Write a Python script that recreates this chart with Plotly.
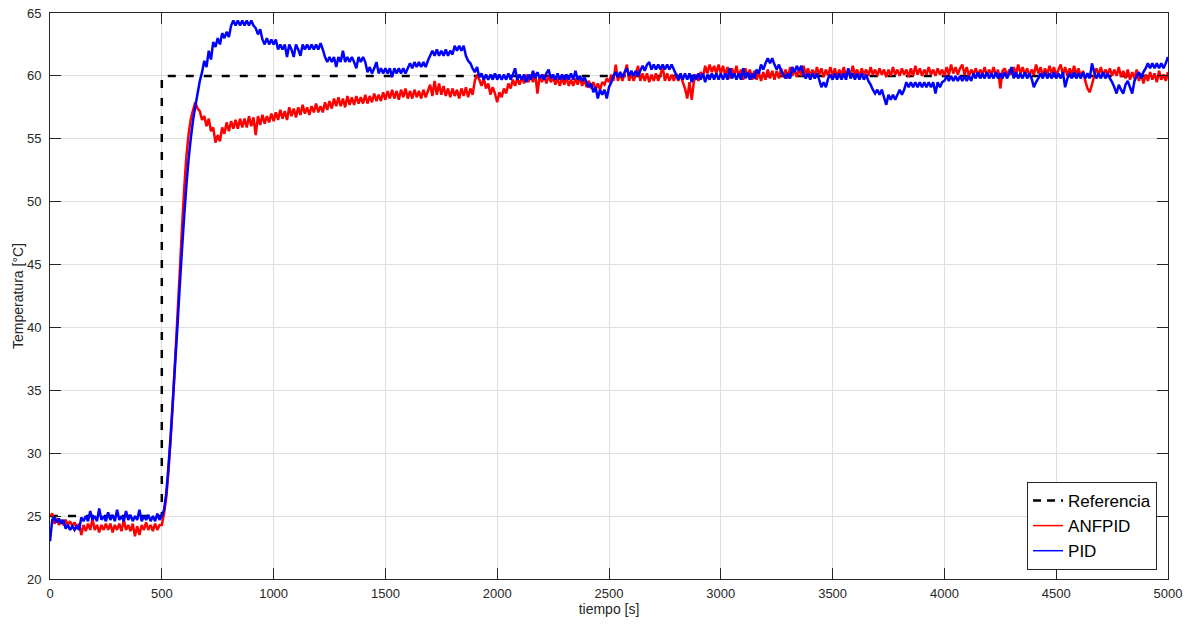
import numpy as np
import plotly.graph_objects as go

# time grid (s), 10 s sampling of the read-off curves
time_s = np.arange(0, 5001, 10)

# Reference (set point)
ref_t = [0, 500, 500, 5000]
ref_v = [25, 25, 60, 60]

# ANFPID response [°C]
anfpid = [
    25.0, 25.2, 24.4, 24.8, 24.3, 24.7, 24.3, 24.7, 24.3, 24.6, 24.2, 24.5, 24.0, 24.4, 23.5, 24.3, 23.8, 24.4, 23.9, 24.8, 23.9, 24.3, 23.7, 24.3, 23.9,
    24.4, 23.9, 24.4, 23.7, 24.3, 23.9, 24.4, 23.8, 24.7, 23.9, 24.3, 23.8, 24.4, 23.4, 24.2, 23.5, 24.3, 23.9, 24.5, 23.9, 24.3, 23.8, 24.4, 23.9, 24.3,
    24.3, 25.2, 26.5, 28.6, 31.2, 34.3, 37.6, 40.9, 44.3, 47.8, 51.0, 53.6, 55.4, 56.6, 57.3, 57.9, 57.4, 57.2, 56.5, 56.8, 56.0, 56.6, 55.6, 55.9, 54.7,
    55.3, 54.8, 55.9, 55.4, 56.3, 55.6, 56.4, 55.8, 56.5, 55.8, 56.6, 55.9, 56.6, 55.9, 56.8, 56.0, 56.7, 55.3, 56.8, 56.1, 56.9, 56.2, 56.8, 56.3, 57.0,
    56.4, 57.1, 56.5, 57.3, 56.6, 57.2, 56.5, 57.5, 56.8, 57.4, 56.7, 57.5, 56.9, 57.7, 57.0, 57.5, 56.9, 57.6, 57.1, 57.8, 57.1, 57.6, 57.1, 57.9, 57.3,
    58.0, 57.4, 58.2, 57.6, 58.3, 57.6, 58.2, 57.5, 58.4, 57.7, 58.3, 57.7, 58.4, 57.8, 58.3, 57.8, 58.5, 57.8, 58.4, 57.9, 58.6, 58.0, 58.5, 58.0, 58.7,
    58.1, 58.8, 58.2, 58.9, 58.2, 58.8, 58.1, 58.9, 58.3, 59.0, 58.2, 58.8, 58.2, 58.9, 58.3, 58.8, 58.2, 58.9, 58.3, 58.8, 59.3, 58.4, 59.6, 58.5, 59.4,
    58.5, 59.2, 58.4, 59.0, 58.3, 59.0, 58.4, 58.9, 58.2, 59.0, 58.4, 59.1, 58.3, 59.0, 58.5, 59.6, 60.1, 59.7, 59.2, 59.8, 59.0, 59.4, 58.5, 59.1, 58.6,
    57.9, 58.7, 58.3, 59.0, 58.6, 59.4, 59.0, 59.7, 59.2, 59.8, 59.3, 59.9, 59.4, 60.1, 59.5, 60.1, 59.5, 60.2, 58.6, 60.0, 59.5, 60.1, 59.4, 60.0, 59.5,
    59.9, 59.3, 59.8, 59.2, 59.8, 59.3, 59.9, 59.2, 59.7, 59.2, 59.8, 59.3, 59.9, 59.2, 59.7, 59.1, 59.6, 59.0, 59.5, 58.9, 59.4, 58.9, 59.5, 59.3, 59.8,
    59.5, 60.1, 59.6, 60.9, 59.6, 60.2, 59.6, 60.2, 60.9, 59.6, 60.2, 59.6, 60.1, 60.8, 59.6, 60.2, 59.6, 60.2, 59.5, 60.1, 59.6, 60.2, 59.6, 60.1, 60.7,
    59.6, 60.2, 59.6, 60.1, 59.6, 60.2, 59.6, 60.1, 59.5, 59.0, 58.2, 59.5, 58.1, 59.6, 60.1, 59.6, 60.3, 59.9, 60.8, 60.2, 60.9, 60.3, 60.8, 60.2, 60.9,
    60.2, 60.8, 60.0, 60.7, 59.8, 60.6, 60.0, 60.8, 59.9, 60.5, 59.7, 60.6, 59.9, 60.5, 59.7, 60.4, 59.7, 60.3, 59.6, 60.3, 59.7, 60.5, 59.8, 60.4, 59.7,
    60.4, 59.8, 60.6, 59.9, 60.5, 59.8, 60.7, 60.0, 60.5, 59.9, 60.6, 60.0, 60.8, 60.1, 60.6, 60.0, 60.5, 60.0, 60.7, 60.1, 60.6, 59.9, 60.5, 60.0, 60.7,
    60.0, 60.6, 59.9, 60.5, 60.0, 60.7, 59.9, 60.5, 60.0, 60.8, 60.1, 60.5, 59.9, 60.6, 60.1, 60.5, 60.0, 60.7, 60.1, 60.5, 60.0, 60.6, 60.1, 60.5, 59.9,
    60.5, 60.0, 60.7, 60.1, 60.5, 60.0, 60.6, 60.1, 60.5, 59.9, 60.6, 60.0, 60.8, 60.1, 60.6, 60.0, 60.5, 60.1, 60.7, 60.1, 60.5, 60.0, 60.6, 60.1, 60.5,
    60.0, 60.7, 60.1, 60.9, 60.2, 60.7, 60.1, 60.6, 60.9, 60.1, 60.7, 60.0, 60.5, 60.1, 60.6, 60.0, 60.5, 60.1, 60.7, 60.0, 60.5, 60.1, 60.7, 60.0, 60.5,
    59.0, 60.4, 60.6, 60.0, 60.5, 60.1, 60.7, 60.1, 60.9, 60.2, 60.7, 60.1, 60.6, 60.0, 60.5, 60.1, 60.9, 60.2, 60.7, 60.0, 60.6, 60.1, 60.8, 60.2, 60.7,
    60.0, 60.5, 60.9, 60.1, 60.7, 60.0, 60.6, 60.1, 60.8, 60.1, 60.6, 59.9, 60.4, 59.6, 59.0, 58.7, 59.3, 60.0, 60.6, 60.1, 60.7, 60.0, 60.5, 60.1, 60.6,
    60.0, 60.5, 60.0, 60.7, 59.9, 60.4, 59.8, 60.5, 59.7, 60.3, 59.8, 60.5, 59.6, 60.2, 59.4, 60.1, 59.6, 60.3, 59.7, 60.2, 59.5, 60.4, 59.7, 60.1, 59.6,
    60.3,
]

# PID response [°C]
pid = [
    23.0, 24.7, 24.9, 24.5, 24.8, 24.4, 24.7, 24.0, 24.3, 23.9, 24.2, 23.9, 24.2, 23.9, 24.9, 24.6, 25.0, 24.6, 25.4, 24.7, 25.0, 24.6, 25.6, 24.7, 25.0,
    24.6, 25.3, 24.7, 25.1, 24.6, 25.5, 24.7, 25.0, 24.6, 25.4, 24.7, 25.1, 24.6, 25.0, 24.7, 25.5, 24.6, 25.0, 24.7, 25.1, 24.6, 25.0, 24.6, 25.2, 24.7,
    25.0, 25.5, 26.8, 29.0, 31.5, 34.3, 37.2, 40.1, 43.2, 46.1, 48.8, 51.3, 53.4, 55.1, 56.5, 57.6, 58.6, 59.6, 60.3, 61.2, 60.7, 62.0, 61.3, 62.7, 62.3,
    63.0, 62.5, 63.4, 63.0, 63.5, 63.1, 64.0, 64.4, 64.0, 64.4, 64.0, 64.4, 64.0, 64.4, 64.0, 64.4, 64.0, 63.8, 63.3, 63.7, 62.9, 62.5, 63.0, 62.5, 62.9,
    62.5, 62.9, 62.1, 62.5, 62.1, 62.5, 61.5, 62.5, 62.1, 61.5, 62.5, 62.1, 61.6, 62.5, 62.1, 62.5, 62.1, 62.5, 62.1, 62.5, 62.1, 62.6, 62.1, 61.5, 61.1,
    61.5, 61.1, 61.5, 60.7, 61.5, 61.1, 62.0, 61.1, 61.5, 61.1, 61.5, 61.1, 60.6, 61.5, 61.1, 61.5, 61.1, 60.3, 60.7, 60.2, 60.6, 61.1, 60.2, 60.6, 60.2,
    60.6, 60.2, 60.6, 59.9, 60.6, 60.2, 60.6, 60.2, 60.6, 60.2, 60.6, 61.0, 60.6, 61.1, 60.7, 61.1, 60.7, 61.1, 60.7, 61.2, 61.6, 62.0, 61.6, 62.1, 61.6,
    62.0, 61.6, 62.1, 61.6, 62.0, 61.7, 62.4, 62.0, 62.4, 62.0, 62.4, 61.6, 61.2, 61.0, 60.6, 60.3, 60.7, 59.9, 60.2, 59.7, 60.1, 59.7, 60.1, 59.7, 60.2,
    59.7, 60.1, 59.7, 60.1, 59.7, 60.2, 59.7, 60.1, 60.6, 59.7, 60.1, 59.7, 60.1, 59.5, 60.1, 59.7, 60.4, 59.8, 60.3, 59.8, 60.1, 59.7, 60.2, 60.5, 59.8,
    60.1, 59.7, 60.2, 59.7, 60.1, 59.7, 60.1, 59.7, 60.2, 59.7, 60.4, 59.7, 60.0, 59.6, 59.9, 59.5, 59.1, 59.4, 58.7, 59.1, 58.2, 58.9, 58.5, 58.9, 58.2,
    59.1, 59.5, 60.0, 60.3, 59.9, 60.3, 59.9, 60.3, 60.6, 60.0, 60.4, 60.0, 60.4, 60.0, 60.4, 60.8, 60.4, 60.9, 61.1, 60.5, 60.9, 60.5, 60.9, 60.5, 60.9,
    60.5, 60.9, 60.5, 60.9, 60.5, 60.1, 59.7, 60.2, 59.7, 60.2, 59.7, 60.2, 59.5, 60.1, 59.7, 60.2, 59.7, 60.2, 59.5, 60.1, 59.7, 60.2, 59.7, 60.2, 59.7,
    60.2, 59.7, 60.2, 59.7, 60.6, 59.8, 60.2, 59.7, 60.2, 59.7, 60.6, 59.8, 60.3, 59.7, 60.2, 59.8, 60.5, 60.2, 60.9, 60.5, 61.0, 61.4, 61.0, 61.4, 60.9,
    60.5, 60.9, 60.4, 60.1, 59.8, 60.2, 59.8, 60.7, 60.3, 60.8, 60.4, 60.8, 60.1, 59.8, 60.2, 59.7, 60.2, 59.8, 60.2, 59.7, 59.1, 59.5, 59.1, 59.8, 60.1,
    59.7, 60.2, 59.7, 60.2, 59.7, 60.2, 59.7, 60.6, 59.8, 60.2, 59.7, 60.2, 59.7, 60.2, 59.7, 60.1, 59.6, 59.3, 58.9, 58.6, 58.9, 58.5, 58.9, 58.3, 57.7,
    58.5, 58.1, 58.5, 58.1, 58.5, 58.9, 58.5, 58.9, 59.5, 59.1, 59.5, 59.1, 59.5, 59.1, 59.5, 59.1, 59.5, 59.1, 59.5, 59.1, 59.5, 58.6, 59.5, 59.1, 59.5,
    59.6, 60.0, 59.6, 60.0, 59.6, 60.0, 59.6, 60.0, 59.6, 60.0, 59.6, 60.0, 59.6, 60.2, 59.8, 60.3, 59.8, 60.2, 59.8, 60.3, 59.8, 60.2, 59.8, 60.3, 59.8,
    60.2, 59.8, 60.3, 59.8, 60.2, 60.7, 59.8, 60.3, 59.8, 60.2, 59.8, 60.3, 59.8, 60.2, 59.8, 59.1, 59.5, 59.8, 60.2, 59.8, 60.3, 59.8, 60.2, 59.8, 60.3,
    59.8, 60.2, 59.8, 60.3, 59.1, 59.8, 60.2, 59.8, 60.3, 59.8, 60.2, 59.8, 60.3, 59.8, 60.2, 59.8, 61.0, 60.3, 59.8, 60.2, 59.8, 60.3, 59.8, 60.2, 59.8,
    59.5, 59.1, 58.6, 59.3, 58.9, 58.6, 59.3, 59.6, 59.1, 58.6, 59.6, 60.0, 60.3, 59.8, 60.3, 60.6, 61.0, 60.6, 61.0, 60.6, 61.0, 60.6, 61.0, 60.6, 61.0,
    61.5,
]

x_ticks = [0, 500, 1000, 1500, 2000, 2500, 3000, 3500, 4000, 4500, 5000]
y_ticks = [20, 25, 30, 35, 40, 45, 50, 55, 60, 65]

FONT = "Liberation Sans, Arial, Helvetica, sans-serif"
AXC = "#262626"
GRID = "#dfdfdf"

fig = go.Figure()
# data traces (legend shown through thin-line proxy entries below)
fig.add_trace(go.Scatter(
    x=ref_t, y=ref_v, mode="lines", name="Referencia", showlegend=False,
    line=dict(color="black", width=2.5, dash="8px,10px"),
))
fig.add_trace(go.Scatter(
    x=time_s, y=anfpid, mode="lines", name="ANFPID", showlegend=False,
    line=dict(color="#ff0000", width=2.5, simplify=False),
))
fig.add_trace(go.Scatter(
    x=time_s, y=pid, mode="lines", name="PID", showlegend=False,
    line=dict(color="#0000ff", width=2.5, simplify=False),
))
# legend entries
fig.add_trace(go.Scatter(x=[None], y=[None], mode="lines", name="Referencia",
                         line=dict(color="black", width=2.5, dash="8px,6px")))
fig.add_trace(go.Scatter(x=[None], y=[None], mode="lines", name="ANFPID",
                         line=dict(color="#ff0000", width=1.5)))
fig.add_trace(go.Scatter(x=[None], y=[None], mode="lines", name="PID",
                         line=dict(color="#0000ff", width=1.5)))

axis_common = dict(
    showgrid=True, gridcolor=GRID, gridwidth=1,
    zeroline=False, automargin=False,
    showline=True, linecolor=AXC, linewidth=1, mirror="ticks",
    ticks="inside", ticklen=11, tickwidth=1, tickcolor=AXC,
    tickfont=dict(family=FONT, size=13, color=AXC),
)

fig.update_layout(
    width=1190, height=626,
    margin=dict(l=50, r=22, t=13, b=47),
    paper_bgcolor="white", plot_bgcolor="white",
    font=dict(family=FONT, color=AXC),
    showlegend=True,
    legend=dict(
        x=0.9902, y=0.016, xanchor="right", yanchor="bottom",
        bgcolor="white", bordercolor=AXC, borderwidth=1,
        font=dict(family=FONT, size=17, color="black"),
        tracegroupgap=0,
    ),
    xaxis=dict(
        range=[0, 5000], tickvals=x_ticks,
        title=dict(text="tiempo [s]", font=dict(family=FONT, size=14, color=AXC), standoff=0),
        ticklabelstandoff=2,
        **axis_common,
    ),
    yaxis=dict(
        range=[20, 65], tickvals=y_ticks,
        title=dict(text="Temperatura [°C]", font=dict(family=FONT, size=14, color=AXC), standoff=0),
        ticklabelstandoff=5,
        **axis_common,
    ),
)

fig.write_html("out.html")
